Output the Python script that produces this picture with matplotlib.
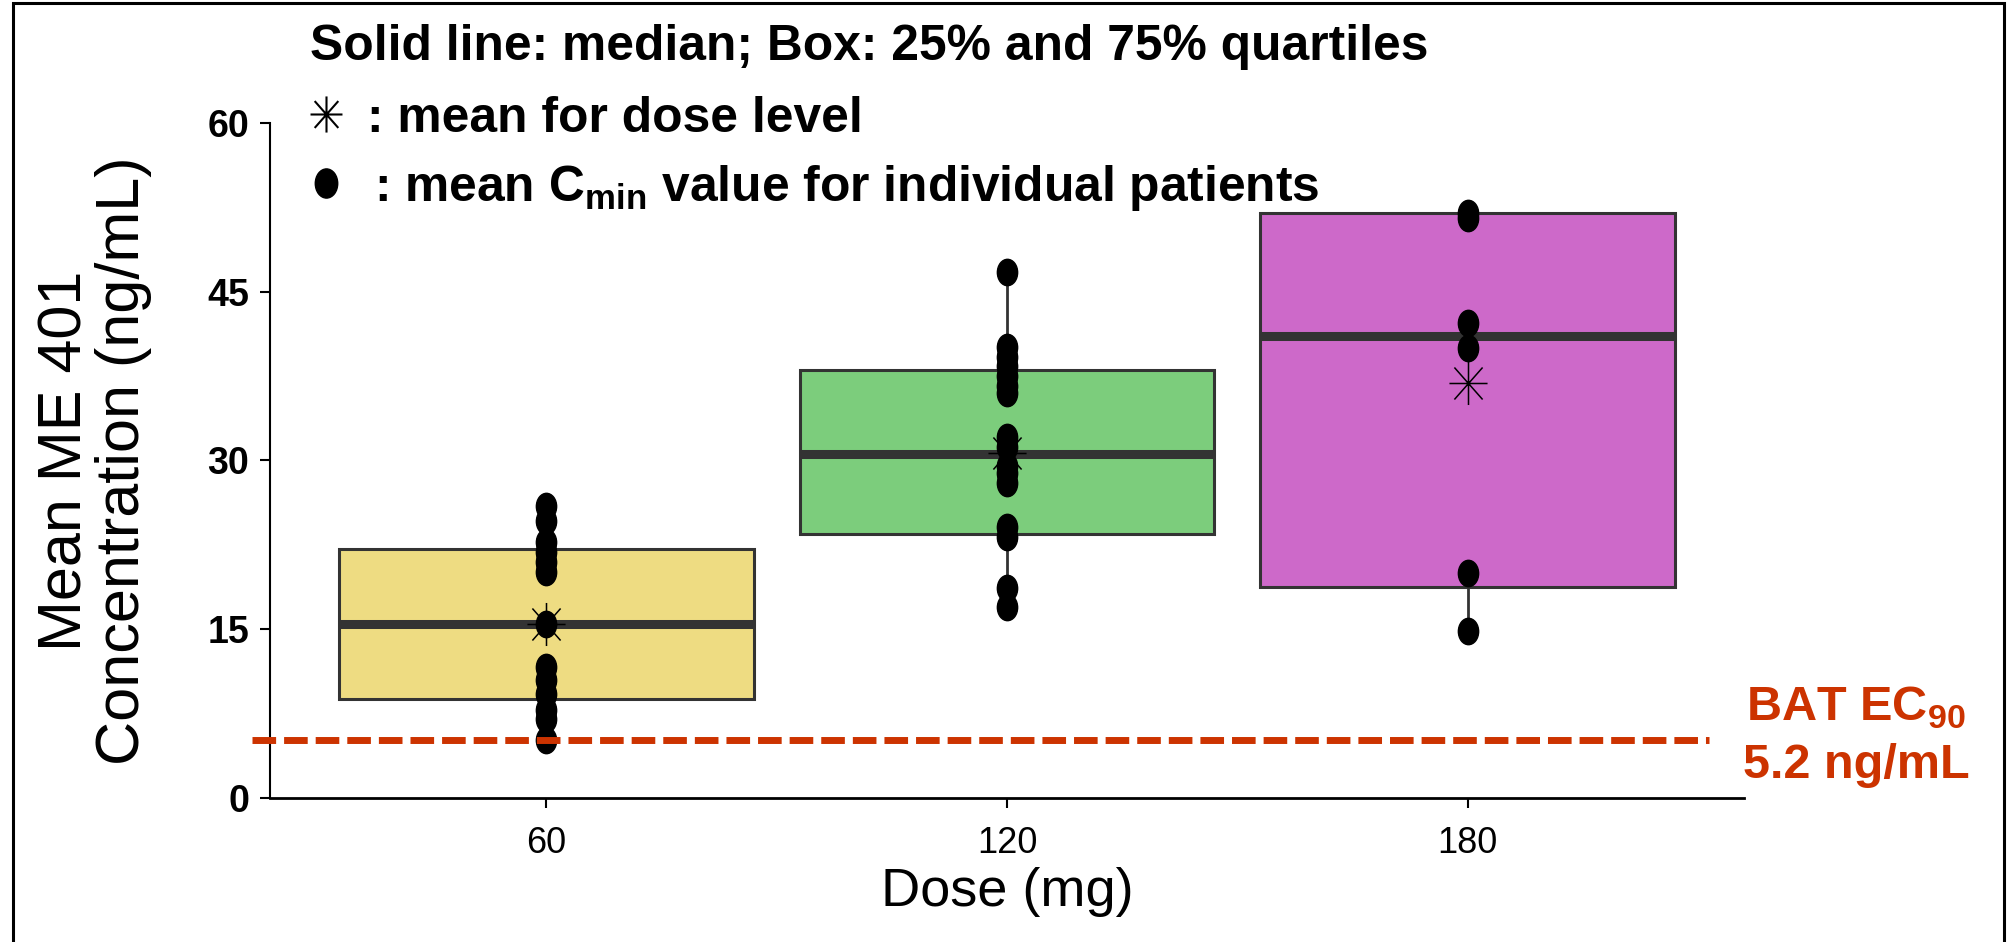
import matplotlib
matplotlib.use("Agg")
import matplotlib.pyplot as plt
from matplotlib.path import Path
from matplotlib.patches import Rectangle
import numpy as np

doses = ["60", "120", "180"]
box_colors = ["#EEDC82", "#7CCD7C", "#CD69C9"]

# mean Cmin per patient (ng/mL)
cmin_60 = [26.0, 24.6, 22.8, 21.9, 21.0, 20.1, 15.5, 11.7, 10.5, 9.3, 7.8, 7.0, 5.2]
cmin_120 = [46.7, 40.1, 39.2, 38.4, 37.5, 36.6, 36.0, 32.1, 31.2, 29.5, 28.9,
            28.0, 24.1, 23.2, 18.7, 17.0]
cmin_180 = [52.0, 51.5, 42.2, 40.0, 20.0, 14.9]

# box summary per dose level
q1 = [8.8, 23.5, 18.8]
medians = [15.5, 30.6, 41.1]
q3 = [22.1, 38.0, 52.0]
whis_lo = [5.2, 17.0, 14.9]
whis_hi = [26.0, 46.7, 52.0]
dose_means = [15.5, 30.7, 36.9]

ec90 = 5.2
yticks = [0, 15, 30, 45, 60]

RED = "#CC3300"
EDGE = "#333333"
SANS = ["Liberation Sans", "DejaVu Sans"]
NARROW = ["Liberation Sans Narrow", "Liberation Sans", "DejaVu Sans"]

plt.rcParams["font.family"] = SANS
plt.rcParams["mathtext.fontset"] = "custom"
plt.rcParams["mathtext.rm"] = "Liberation Sans"
plt.rcParams["mathtext.bf"] = "Liberation Sans:bold"

# slightly tall ellipse for the patient points, 8-arm asterisk for the means
circ = Path.unit_circle()
dot_marker = Path(circ.vertices * [1.0, 1.3], circ.codes)
star_verts = [(-1, 0), (1, 0), (0, -1.13), (0, 1.13),
              (-0.74, -0.84), (0.74, 0.84), (-0.74, 0.84), (0.74, -0.84)]
star_codes = [Path.MOVETO, Path.LINETO] * 4
star_marker = Path(star_verts, star_codes)

W, H = 2007, 942
fig = plt.figure(figsize=(W / 100, H / 100), dpi=100)
ax = fig.add_axes([270 / W, 1 - 798.3 / H, 1474 / W, 675.6 / H])

stats = []
for i in range(len(doses)):
    stats.append(dict(med=medians[i], q1=q1[i], q3=q3[i],
                      whislo=whis_lo[i], whishi=whis_hi[i], fliers=[]))

bp = ax.bxp(stats, positions=range(len(doses)), widths=0.9, patch_artist=True,
            showcaps=False, showfliers=False, manage_ticks=False,
            boxprops=dict(edgecolor=EDGE, linewidth=2.2),
            medianprops=dict(color=EDGE, linewidth=6.5, solid_capstyle="butt"),
            whiskerprops=dict(color=EDGE, linewidth=2))
for patch, c in zip(bp["boxes"], box_colors):
    patch.set_facecolor(c)

for i, vals in enumerate([cmin_60, cmin_120, cmin_180]):
    ax.plot([i] * len(vals), vals, linestyle="none", marker=dot_marker,
            markersize=19, color="black", zorder=5, clip_on=False)

ax.plot(range(len(doses)), dose_means, linestyle="none", marker=star_marker,
        markersize=31, mfc="none", mec="black", mew=1.1, zorder=6)

# EC90 reference line
ax.plot([-0.64, 2.525], [ec90, ec90], color=RED, linewidth=5,
        dashes=(3.4, 1.15), clip_on=False, zorder=7)
ax.text(1856 / W, 1 - 708 / H, r"BAT EC$_{\mathbf{90}}$", transform=fig.transFigure,
        ha="center", va="center", color=RED, fontsize=35, fontweight="bold")
ax.text(1856 / W, 1 - 765 / H, "%.1f ng/mL" % ec90, transform=fig.transFigure,
        ha="center", va="center", color=RED, fontsize=35, fontweight="bold")

ax.set_xlim(-0.6, 2.6)
ax.set_ylim(0, 60)
ax.set_xticks(range(len(doses)))
ax.set_xticklabels(doses, family=NARROW, fontsize=26)
ax.set_yticks(yticks)
ax.set_yticklabels([str(t) for t in yticks], family=NARROW, fontsize=27,
                   fontweight="bold")
ax.tick_params(axis="both", direction="out", length=7, width=1.5, color="black")
ax.tick_params(axis="x", pad=13)
ax.tick_params(axis="y", pad=8)

for s in ["top", "right"]:
    ax.spines[s].set_visible(False)
ax.spines["left"].set_bounds(0, 60)
ax.spines["left"].set_linewidth(1.5)
ax.spines["bottom"].set_linewidth(2)

ax.set_xlabel("Dose (mg)", fontsize=39)
ax.xaxis.set_label_coords(0.5, -0.139)
ax.xaxis.label.set_verticalalignment("center")
ax.set_ylabel("Mean ME 401\nConcentration (ng/mL)", fontsize=44, linespacing=1.0)
ax.yaxis.set_label_coords(-0.119, 0.5)
ax.yaxis.label.set_verticalalignment("center")

# key text at the top
fig.text(310 / W, 1 - 60 / H, "Solid line: median; Box: 25% and 75% quartiles",
         fontsize=35.8, fontweight="bold", va="baseline")
key = fig.add_axes([0, 0, 1, 1], facecolor="none")
key.set_axis_off()
key.set_xlim(0, W)
key.set_ylim(H, 0)
key.plot([326], [114], linestyle="none", marker=star_marker, markersize=26,
         mfc="none", mec="black", mew=1.5)
key.plot([326], [183], linestyle="none", marker=dot_marker, markersize=21,
         color="black")
fig.text(367 / W, 1 - 132 / H, ": mean for dose level",
         fontsize=35.8, fontweight="bold", va="baseline")
fig.text(374 / W, 1 - 201 / H, r": mean C$_{\mathbf{min}}$ value for individual patients",
         fontsize=35.8, fontweight="bold", va="baseline")

# frame round the whole figure
fig.patches.append(Rectangle((13 / W, -0.01), 1991 / W, 1.01 - 3 / H,
                             transform=fig.transFigure, fill=False,
                             edgecolor="black", linewidth=2.2))

fig.savefig("out.png", dpi=100)
